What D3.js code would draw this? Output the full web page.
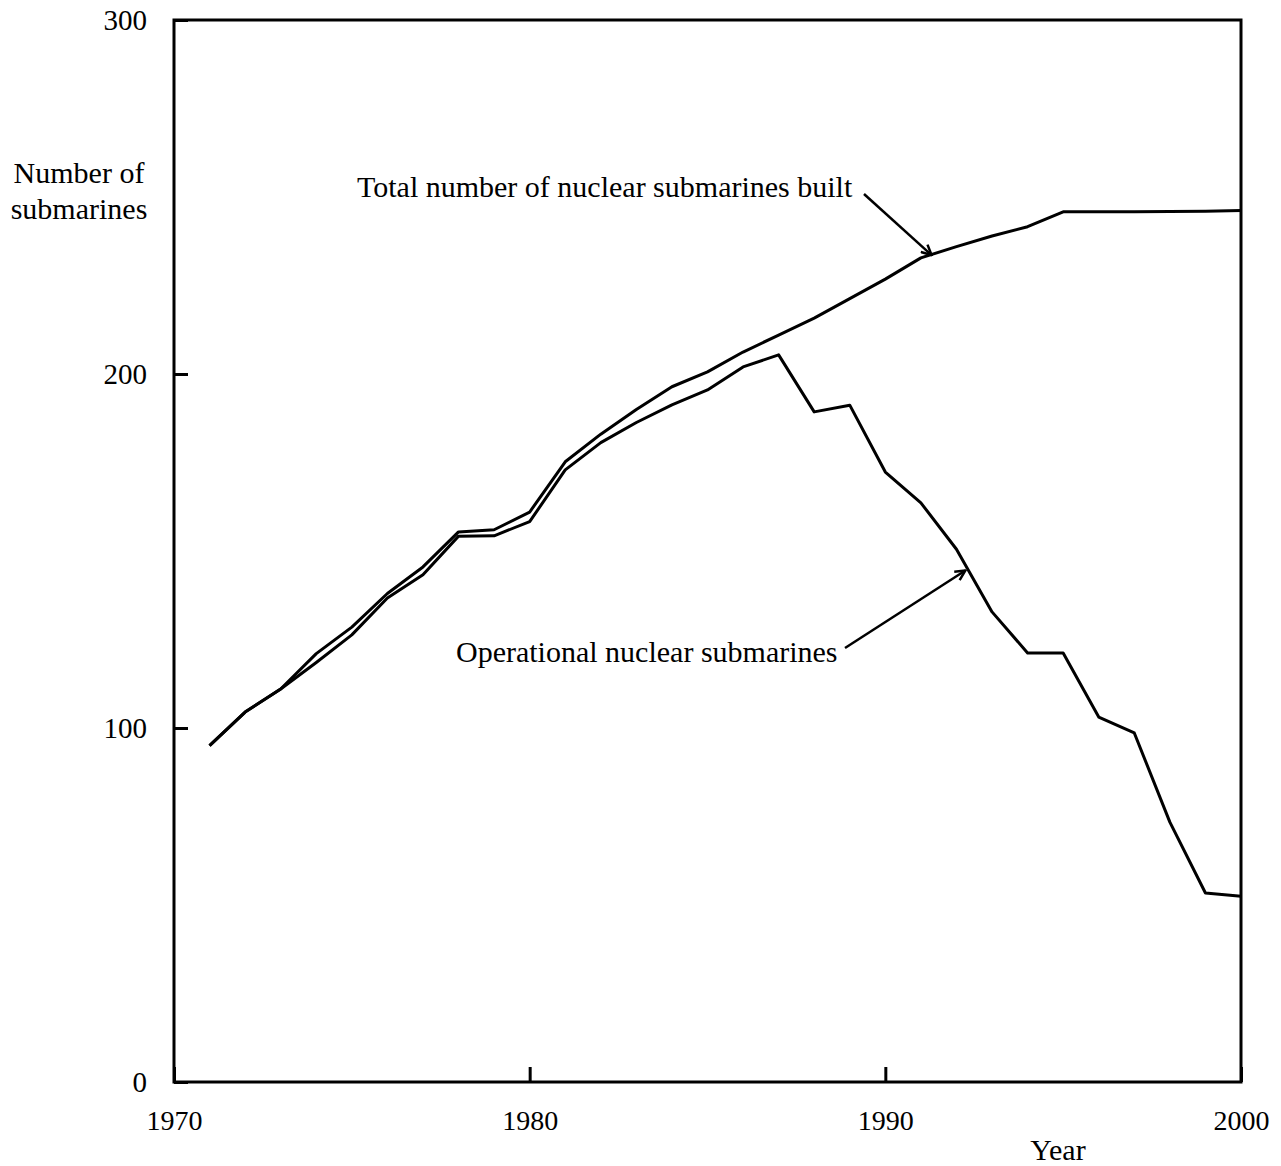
<!DOCTYPE html>
<html lang="en">
<head>
  <meta charset="utf-8" />
  <title>Nuclear submarines</title>
  <script src="https://cdn.jsdelivr.net/npm/d3@7"></script>
  <style>
    body { margin: 0; background: #fff; }
    text { font-family: "Liberation Serif", "Times New Roman", serif; fill: #000; }
  </style>
</head>
<body>
  <script>
    // values
    var years = d3.range(1971, 2001);
    var totalBuilt = [95, 104.5, 111, 121, 128.5, 138, 145.5, 155.4, 156, 161,
      175.2, 183, 190, 196.4, 200.6, 206.2, 211, 215.8, 221.3, 226.8,
      232.8, 236, 239, 241.6, 245.8, 245.8, 245.8, 245.9, 246, 246.2];
    var operational = [95, 104.5, 111, 118.5, 126.3, 136.7, 143.3, 154.2, 154.3, 158.3,
      172.9, 180.6, 186.3, 191.3, 195.5, 202, 205.4, 189.3, 191.2, 172.3,
      163.6, 150.5, 132.8, 121.2, 121.2, 103.1, 98.6, 73.4, 53.4, 52.5];
    var xTicks = [1970, 1980, 1990, 2000];
    var yTicks = [0, 100, 200, 300];

    var width = 1281, height = 1166;
    var pLeft = 174, pRight = 1241, pTop = 20, pBottom = 1082;

    var x = d3.scaleLinear().domain([1970, 2000]).range([pLeft, pRight]);
    var y = d3.scaleLinear().domain([0, 300]).range([pBottom, pTop]);

    var svg = d3.select("body").append("svg")
      .attr("width", width).attr("height", height);

    svg.append("defs").append("marker")
      .attr("id", "arrow")
      .attr("viewBox", "0 0 12 12")
      .attr("refX", 11).attr("refY", 6)
      .attr("markerWidth", 12).attr("markerHeight", 12)
      .attr("markerUnits", "userSpaceOnUse")
      .attr("orient", "auto")
      .append("path")
      .attr("d", "M1,1L11,6L1,11")
      .attr("fill", "none").attr("stroke", "#000").attr("stroke-width", 2.5);

    // axes: inward ticks, labels outside
    var xAxis = svg.append("g")
      .attr("transform", "translate(0," + pBottom + ")")
      .call(d3.axisBottom(x).tickValues(xTicks).tickFormat(d3.format("d"))
        .tickSizeInner(-15).tickSizeOuter(0).tickPadding(28));
    var yAxis = svg.append("g")
      .attr("transform", "translate(" + pLeft + ",0)")
      .call(d3.axisLeft(y).tickValues(yTicks)
        .tickSizeInner(-14).tickSizeOuter(0).tickPadding(28));

    [xAxis, yAxis].forEach(function(g) {
      g.select(".domain").remove();
      g.selectAll(".tick line").attr("stroke", "#000").attr("stroke-width", 3);
      g.selectAll(".tick text")
        .style("font-family", "Liberation Serif, serif").attr("fill", "#000");
    });
    xAxis.selectAll(".tick text").style("font-size", "28px").attr("dy", "0.71em");
    yAxis.selectAll(".tick text").style("font-size", "29px").attr("x", -27);

    // frame
    svg.append("rect")
      .attr("x", pLeft).attr("y", pTop)
      .attr("width", pRight - pLeft).attr("height", pBottom - pTop)
      .attr("fill", "none").attr("stroke", "#000").attr("stroke-width", 3);

    var line = d3.line()
      .x(function(d) { return x(d[0]); })
      .y(function(d) { return y(d[1]); });

    [totalBuilt, operational].forEach(function(vals) {
      svg.append("path")
        .datum(years.map(function(yr, i) { return [yr, vals[i]]; }))
        .attr("d", line)
        .attr("fill", "none")
        .attr("stroke", "#000")
        .attr("stroke-width", 3)
        .attr("stroke-linejoin", "round");
    });

    // axis titles
    var yTitle = svg.append("text")
      .attr("text-anchor", "middle")
      .style("font-size", "30px");
    yTitle.append("tspan").attr("x", 79).attr("y", 183).text("Number of");
    yTitle.append("tspan").attr("x", 79).attr("y", 219).text("submarines");

    svg.append("text")
      .attr("x", 1058).attr("y", 1160)
      .attr("text-anchor", "middle")
      .style("font-size", "30px")
      .text("Year");

    // annotations
    svg.append("text")
      .attr("x", 357).attr("y", 197)
      .style("font-size", "30px")
      .text("Total number of nuclear submarines built");
    svg.append("line")
      .attr("x1", 864).attr("y1", 194)
      .attr("x2", x(1991.3)).attr("y2", y(233.6))
      .attr("stroke", "#000").attr("stroke-width", 2.5)
      .attr("marker-end", "url(#arrow)");

    svg.append("text")
      .attr("x", 456).attr("y", 662)
      .style("font-size", "30px")
      .text("Operational nuclear submarines");
    svg.append("line")
      .attr("x1", 845).attr("y1", 648)
      .attr("x2", x(1992.25)).attr("y2", y(144.5))
      .attr("stroke", "#000").attr("stroke-width", 2.5)
      .attr("marker-end", "url(#arrow)");
  </script>
</body>
</html>
